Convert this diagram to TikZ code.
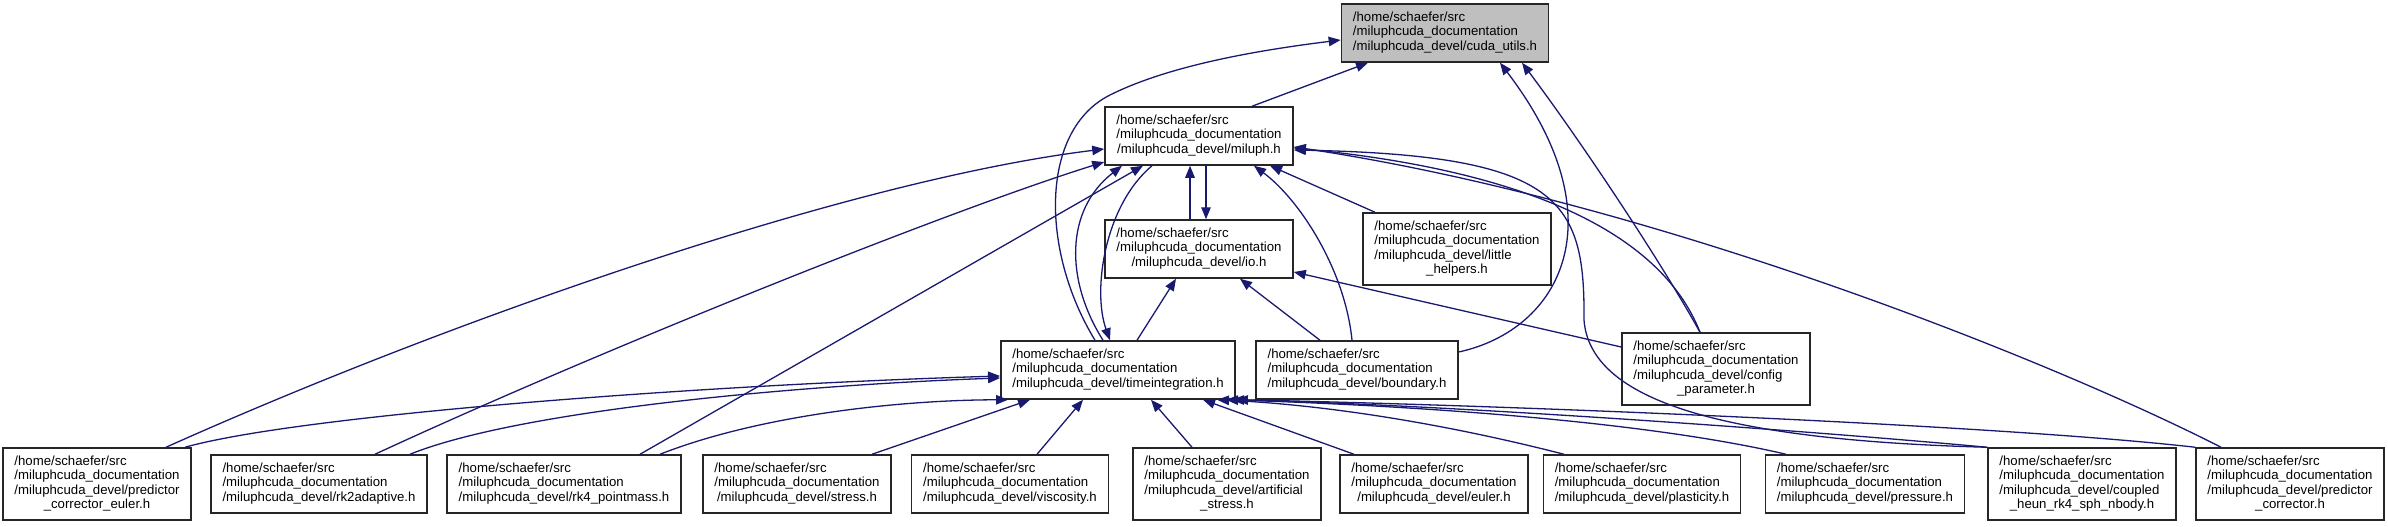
\documentclass[tikz,border=0pt]{standalone}
\usepackage{fontspec}
\setmainfont{Liberation Sans}
\usetikzlibrary{arrows.meta}
\definecolor{edgeblue}{HTML}{191970}
\definecolor{rootgray}{HTML}{BFBFBF}
\newcommand{\doxa}[1]{\begin{tabular}{@{}l@{}}/home/schaefer/src\\/miluphcuda\_documentation\\\multicolumn{1}{@{}c@{}}{#1}\end{tabular}}
\newcommand{\doxb}[2]{\begin{tabular}{@{}l@{}}/home/schaefer/src\\/miluphcuda\_documentation\\#1\\\multicolumn{1}{@{}c@{}}{#2}\end{tabular}}
\begin{document}
\begin{tikzpicture}[x=1pt,y=-1pt,
  fbox/.style={draw=black!85,line width=1.5pt,fill=white,inner xsep=11.5pt,inner ysep=0pt,
    font=\fontsize{13.2}{14.5}\selectfont},
  three/.style={fbox,minimum height=58pt},
  four/.style={fbox,minimum height=72pt},
  edge/.style={draw=edgeblue,line width=1.3pt,-{Triangle[length=12pt,width=9.5pt]}}]
\useasboundingbox (0,0) rectangle (2388,527);
% nodes
\node[three,fill=rootgray] (cu) at (1445,33) {\doxa{/miluphcuda\_devel/cuda\_utils.h}};
\node[three] (mi) at (1199,136) {\doxa{/miluphcuda\_devel/miluph.h}};
\node[three] (io) at (1199,249) {\doxa{/miluphcuda\_devel/io.h}};
\node[four]  (lh) at (1457,249) {\doxb{/miluphcuda\_devel/little}{\_helpers.h}};
\node[three] (ti) at (1118,370) {\doxa{/miluphcuda\_devel/timeintegration.h}};
\node[three] (bd) at (1357,370) {\doxa{/miluphcuda\_devel/boundary.h}};
\node[four]  (cp) at (1716,369) {\doxb{/miluphcuda\_devel/config}{\_parameter.h}};
\node[four]  (pce) at (97,484) {\doxb{/miluphcuda\_devel/predictor}{\_corrector\_euler.h}};
\node[three] (rk2) at (319,484) {\doxa{/miluphcuda\_devel/rk2adaptive.h}};
\node[three] (rk4) at (564,484) {\doxa{/miluphcuda\_devel/rk4\_pointmass.h}};
\node[three] (st) at (797,484) {\doxa{/miluphcuda\_devel/stress.h}};
\node[three] (vi) at (1010,484) {\doxa{/miluphcuda\_devel/viscosity.h}};
\node[four]  (as) at (1227,484) {\doxb{/miluphcuda\_devel/artificial}{\_stress.h}};
\node[three] (eu) at (1434,484) {\doxa{/miluphcuda\_devel/euler.h}};
\node[three] (pl) at (1642,484) {\doxa{/miluphcuda\_devel/plasticity.h}};
\node[three] (pr) at (1865,484) {\doxa{/miluphcuda\_devel/pressure.h}};
\node[four]  (co) at (2082,484) {\doxb{/miluphcuda\_devel/coupled}{\_heun\_rk4\_sph\_nbody.h}};
\node[four]  (pc) at (2290,484) {\doxb{/miluphcuda\_devel/predictor}{\_corrector.h}};
% edges into cuda_utils.h
\draw[edge] (1252,0 |- mi.north) -- (1368,0 |- cu.south);
\draw[edge] (1095,0 |- ti.north) .. controls (1040,250) and (1040,130) .. (1110,95)
  .. controls (1170,65) and (1260,50) .. (cu.west |- 0,40);
\draw[edge] (bd.east |- 0,352) .. controls (1560,330) and (1620,220) .. (1500,0 |- cu.south);
\draw[edge] (1700,0 |- cp.north) .. controls (1660,260) and (1580,140) .. (1522,0 |- cu.south);
% edges into miluph.h
\draw[edge] (1190,0 |- io.north) -- (1190,0 |- mi.south);
\draw[edge] (1375,0 |- lh.north) -- (1270,0 |- mi.south);
\draw[edge] (1352,0 |- bd.north) .. controls (1345,270) and (1300,200) .. (1254,0 |- mi.south);
\draw[edge] (1103,0 |- ti.north) .. controls (1065,280) and (1065,210) .. (1122,0 |- mi.south);
\draw[edge] (640,0 |- rk4.north) -- (1143,0 |- mi.south);
\draw[edge] (166,0 |- pce.north) .. controls (450,320) and (850,180) .. (mi.west |- 0,149);
\draw[edge] (375,0 |- rk2.north) .. controls (600,350) and (950,210) .. (mi.west |- 0,162);
\draw[edge] (co.north west) .. controls (1720,440) and (1590,400) .. (1584,320)
  .. controls (1585,200) and (1560,155) .. (mi.east |- 0,150);
\draw[edge] (1700,0 |- cp.north) .. controls (1660,230) and (1520,170) .. (mi.east |- 0,148);
\draw[edge] (2221,0 |- pc.north) .. controls (2050,360) and (1650,200) .. (mi.east |- 0,147);
% edges into io.h
\draw[edge] (1206,0 |- mi.south) -- (1206,0 |- io.north);
\draw[edge] (1137,0 |- ti.north) -- (1176,0 |- io.south);
\draw[edge] (1320,0 |- bd.north) -- (1240,0 |- io.south);
\draw[edge] (cp.west |- 0,347) -- (io.east |- 0,272);
% edges into timeintegration.h
\draw[edge] (1152,0 |- mi.south) .. controls (1105,205) and (1092,290) .. (1110,0 |- ti.north);
\draw[edge] (185,0 |- pce.north) .. controls (300,415) and (700,385) .. (ti.west |- 0,376);
\draw[edge] (410,0 |- rk2.north) .. controls (520,410) and (800,385) .. (ti.west |- 0,378);
\draw[edge] (660,0 |- rk4.north) .. controls (760,415) and (900,400) .. (1008,0 |- ti.south);
\draw[edge] (872,0 |- st.north) -- (1030,0 |- ti.south);
\draw[edge] (1037,0 |- vi.north) -- (1083,0 |- ti.south);
\draw[edge] (1192,0 |- as.north) -- (1151,0 |- ti.south);
\draw[edge] (1354,0 |- eu.north) -- (1203,0 |- ti.south);
\draw[edge] (1564,0 |- pl.north) .. controls (1450,425) and (1330,405) .. (1217,0 |- ti.south);
\draw[edge] (1786,0 |- pr.north) .. controls (1640,420) and (1400,405) .. (1226,0 |- ti.south);
\draw[edge] (co.north west) .. controls (1800,430) and (1450,405) .. (1232,0 |- ti.south);
\draw[edge] (pc.north west) .. controls (2000,425) and (1500,405) .. (ti.south east);
\end{tikzpicture}
\end{document}
